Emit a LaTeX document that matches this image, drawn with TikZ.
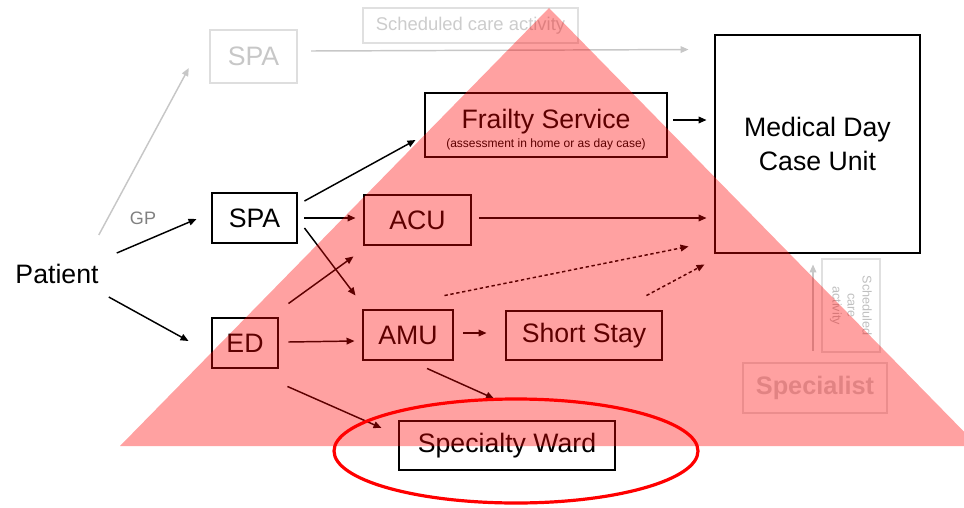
\documentclass[tikz,border=0pt]{standalone}
\usepackage{fontspec}
\setmainfont{Liberation Sans}
\usetikzlibrary{arrows.meta,calc}
\begin{document}
\begin{tikzpicture}[x=0.75pt,y=-0.75pt,
  box/.style={draw=black,line width=2.2pt,inner sep=0pt,font=\fontsize{20}{24}\selectfont},
  gbox/.style={draw=black!13,line width=1.8pt,inner sep=0pt,text=black!22,font=\fontsize{20}{24}\selectfont},
  arr/.style={line width=1.1pt,-{Triangle[length=6pt,width=5pt]}},
  garr/.style={arr,draw=black!22},
  dasharr/.style={arr,dash pattern=on 2.5pt off 2pt},
]
\useasboundingbox (0,0) rectangle (964,507);
% faded elements
\node[gbox,minimum width=65.25pt,minimum height=39.75pt] (spagray) at (253.5,56.5) {SPA};
\node[draw=black!12,line width=1.2pt,inner sep=0pt,minimum width=161.25pt,minimum height=26.25pt,text=black!20,font=\fontsize{13.8}{16}\selectfont] (sched) at (470.5,25.5) {Scheduled care activity};
\node[gbox,minimum width=108pt,minimum height=37.5pt,text=black!18,draw=black!12,font=\fontsize{19}{23}\selectfont\bfseries] (specialist) at (815,388) {Specialist};
\node[draw=black!12,line width=1pt,inner sep=0pt,rotate=-90,minimum width=69.75pt,minimum height=43.5pt,align=center,text=black!25,font=\fontsize{9.5}{11.25}\selectfont] (vsched) at (851,305.5) {Scheduled\\care\\activity};
% main nodes
\node[inner sep=0pt,font=\fontsize{20}{24}\selectfont] (patient) at (57,274) {Patient};
\node[inner sep=0pt,text=black!50,font=\fontsize{13.5}{16}\selectfont] (gp) at (143,218) {GP};
\node[box,minimum width=63.75pt,minimum height=37.5pt] (spa) at (254.5,218) {SPA};
\node[box,minimum width=49.5pt,minimum height=37.5pt] (ed) at (245,343) {ED};
\node[box,minimum width=181.5pt,minimum height=48pt,align=center,font=\fontsize{20}{14.5}\selectfont] (frail) at (546,125) {\rule{0pt}{21.5pt}Frailty Service\\{\fontsize{9}{11}\selectfont(assessment in home or as day case)}};
\node[box,minimum width=153.75pt,minimum height=163.5pt,align=center,font=\fontsize{20}{25.5}\selectfont] (mdcu) at (817.5,144) {Medical Day\\Case Unit};
\node[box,minimum width=80.25pt,minimum height=37.5pt] (acu) at (417.5,220) {ACU};
\node[box,minimum width=67.5pt,minimum height=37.5pt] (amu) at (408,335) {AMU};
\node[box,minimum width=117pt,minimum height=36.75pt] (short) at (584,335.5) {Short Stay};
\node[box,minimum width=162pt,minimum height=36.75pt] (ward) at (507,445.5) {Specialty Ward};
% faded connectors
\draw[garr] ($(patient.east)+(0,-39)$) -- ($(spagray.west)+(-20,11.5)$);
\draw[garr] ($(spagray.east)+(13,-5.5)$) -- ($(mdcu.north west)+(-25,16)$);
\draw[garr] ($(specialist.north)+(-2,-11)$) -- ($(mdcu.south)+(-4.5,10)$);
% connectors
\draw[arr] ($(patient.east)+(18,-21)$) -- ($(spa.west)+(-14,1)$);
\draw[arr] ($(patient.east)+(10,23)$) -- ($(ed.west)+(-22,-2)$);
\draw[arr] ($(spa.east)+(6,-17)$) -- ($(frail.west)+(-8,15)$);
\draw[arr] ($(spa.east)+(6,0)$) -- ($(acu.west)+(-7,-2)$);
\draw[arr] ($(spa.east)+(6,10)$) -- ($(amu.north west)+(-6,-13)$);
\draw[arr] ($(ed.north east)+(9,-13)$) -- ($(acu.south west)+(-9,10)$);
\draw[arr] ($(ed.east)+(9,-1)$) -- ($(amu.west)+(-7,6)$);
\draw[arr] ($(amu.east)+(9,-2)$) -- ($(short.west)+(-18,-2.5)$);
\draw[arr] ($(acu.east)+(7,-2)$) -- ($(mdcu.west)+(-7,74)$);
\draw[arr] ($(frail.east)+(5,-5)$) -- ($(mdcu.west)+(-7,-24)$);
\draw[dasharr] ($(amu.north east)+(-10,-13)$) -- ($(mdcu.south west)+(-25,-8)$);
\draw[dasharr] ($(short.north east)+(-17,-14)$) -- ($(mdcu.south west)+(-9,10)$);
\draw[arr] ($(amu.south)+(19,7)$) -- ($(ward.north)+(-13,-21)$);
\draw[arr] ($(ed.south east)+(8,17)$) -- ($(ward.west)+(-16,-17.5)$);
% translucent pyramid
\begin{scope}
\clip (0,0) rectangle (964,507);
\fill[red,fill opacity=0.37] (549,8) -- (978,446) -- (120,446) -- cycle;
\end{scope}
% highlight
\draw[red,line width=2.4pt] (516,451) ellipse [x radius=136.5pt, y radius=39pt];
\end{tikzpicture}
\end{document}
